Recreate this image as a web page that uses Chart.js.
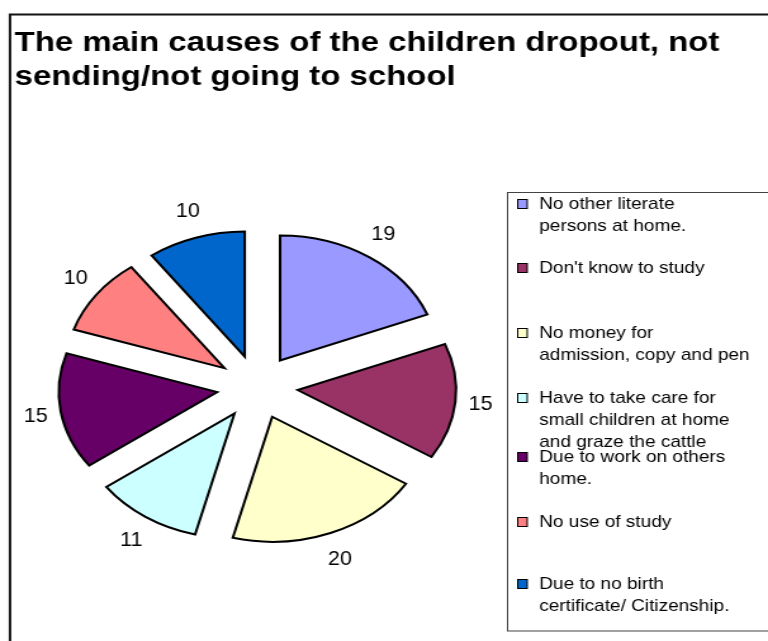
<!DOCTYPE html>
<html>
<head>
<meta charset="utf-8">
<script src="https://cdn.jsdelivr.net/npm/chart.js@4.4.1/dist/chart.umd.min.js"></script>
<style>
  html, body { margin: 0; padding: 0; background: #fff; overflow: hidden; }
  #myChart { display: block; }
</style>
</head>
<body>
<!-- the source picture is stretched sideways, so the canvas is too -->
<canvas id="myChart" width="606" height="641" style="width:768px;height:641px"></canvas>
<script>
// data
var titleLines = ["The main causes of the children dropout, not", "sending/not going to school"];
var causes = [
    ["No other literate", "persons at home."],
    ["Don't know to study"],
    ["No money for", "admission, copy and pen"],
    ["Have to take care for", "small children at home", "and graze the cattle"],
    ["Due to work on others", "home."],
    ["No use of study"],
    ["Due to no birth", "certificate/ Citizenship."]
];
var counts = [19, 15, 20, 11, 15, 10, 10];
var sliceColors = ["#9999FF", "#993366", "#FFFFCC", "#CCFFFF", "#660066", "#FF8080", "#0066CC"];

// layout (canvas units)
var explode = 32;                  // how far each slice is pulled out
var labelRx = 177, labelRy = 185;  // where the numbers sit
var legendRowY = [204, 268, 333, 398, 457, 522, 584];
var lineGap = 22;

var fontName = '"Liberation Sans", Arial, sans-serif';

// text a bit taller than wide, like the picture
function tallText(ctx, text, x, y, vs) {
    ctx.save();
    ctx.translate(x, y);
    ctx.scale(1, vs);
    ctx.fillText(text, 0, 0);
    ctx.restore();
}

var pieLook = {
    id: 'pieLook',
    beforeDraw: function (chart) {
        var ctx = chart.ctx;
        ctx.save();
        ctx.fillStyle = "#fff";
        ctx.fillRect(0, 0, chart.width, chart.height);
        // outer frame, only top and left show
        ctx.strokeStyle = "#111";
        ctx.lineWidth = 2;
        ctx.strokeRect(7.9, 14.5, 800, 800);
        ctx.restore();
    },
    beforeDatasetDraw: function (chart, args) {
        // draw each slice pulled out along its middle angle
        var ctx = chart.ctx;
        args.meta.data.forEach(function (arc) {
            var mid = (arc.startAngle + arc.endAngle) / 2;
            ctx.save();
            ctx.translate(Math.cos(mid) * explode, Math.sin(mid) * explode);
            arc.draw(ctx);
            ctx.restore();
        });
        return false;
    },
    afterDraw: function (chart) {
        var ctx = chart.ctx;
        var meta = chart.getDatasetMeta(0);
        ctx.save();

        // value labels
        ctx.fillStyle = "#000";
        ctx.font = "17px " + fontName;
        ctx.textAlign = "center";
        ctx.textBaseline = "middle";
        meta.data.forEach(function (arc, i) {
            var mid = (arc.startAngle + arc.endAngle) / 2;
            tallText(ctx, String(counts[i]), arc.x + Math.cos(mid) * labelRx, arc.y + Math.sin(mid) * labelRy, 1.2);
        });

        // title
        ctx.textAlign = "left";
        ctx.textBaseline = "alphabetic";
        ctx.font = "bold 26px " + fontName;
        tallText(ctx, titleLines[0], 11.5, 51, 1.04);
        tallText(ctx, titleLines[1], 11.5, 85, 1.04);

        // legend box
        ctx.strokeStyle = "#444";
        ctx.lineWidth = 1;
        ctx.strokeRect(400.5, 192.5, 300, 438.5);
        ctx.font = "15px " + fontName;
        ctx.textBaseline = "middle";
        for (var i = 0; i < causes.length; i++) {
            var y = legendRowY[i];
            ctx.fillStyle = sliceColors[i];
            ctx.fillRect(408.5, y - 4.5, 7.5, 9);
            ctx.strokeStyle = "#000";
            ctx.strokeRect(408.5, y - 4.5, 7.5, 9);
            ctx.fillStyle = "#000";
            for (var j = 0; j < causes[i].length; j++) {
                tallText(ctx, causes[i][j], 425.5, y + j * lineGap, 1.12);
            }
        }
        ctx.restore();
    }
};

var config = {
    type: 'pie',
    data: {
        labels: causes.map(function (c) { return c.join(" "); }),
        datasets: [{
            data: counts,
            backgroundColor: sliceColors,
            borderColor: "#000",
            borderWidth: 2,
            borderJoinStyle: "miter",
            radius: 125
        }]
    },
    options: {
        responsive: false,
        devicePixelRatio: 1,
        animation: false,
        events: [],
        layout: {
            padding: { left: 0, right: 200, top: 133, bottom: 0 }
        },
        plugins: {
            legend: { display: false },
            title: { display: false },
            tooltip: { enabled: false }
        }
    },
    plugins: [pieLook]
};

var myChart = new Chart(document.getElementById('myChart'), config);
</script>
</body>
</html>
